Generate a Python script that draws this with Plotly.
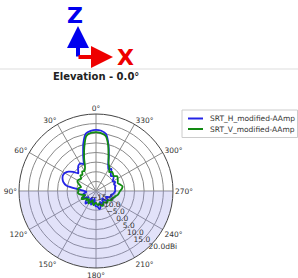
import plotly.graph_objects as go

W, H = 298, 278

theta_deg = list(range(0, 360, 5))

h_amp = [11.8, 11.4, 10.3, 5.5, -0.5, -4.5, -3.5, -4.0, -5.5, -7.0,
         -4.5, -2.5, -1.3, -1.0, -1.5, -2.5, -4.5, -11.0,
         -14.0, -15.0, -14.0, -13.0, -14.0, -13.0, -12.5, -14.0, -15.0,
         -12.5, -11.5, -13.0, -16.0, -14.0, -12.5, -14.0, -16.0, -13.0,
         -12.0, -12.0, -10.5, -11.0, -14.0, -13.0, -12.0, -14.0, -15.0,
         -13.0, -12.0, -13.0, -14.0, -12.5, -11.5, -12.0, -11.0, -10.5,
         -10.0, -10.0, -10.0, -9.5, -10.0, -9.0, -10.0, -9.0, -8.0,
         -9.0, -8.0, -6.0, -7.0, -5.0, -0.5, 5.0, 10.1, 11.4]

v_amp = [10.6, 10.3, 9.0, 3.5, -2.0, -6.5, -8.0, -7.5, -9.0, -8.5,
         -10.0, -9.5, -9.0, -9.5, -11.0, -12.0, -11.0, -10.5,
         -11.0, -10.5, -11.0, -12.5, -14.0, -12.0, -11.5, -13.0, -14.0,
         -13.0, -14.5, -13.0, -12.5, -14.0, -15.0, -13.5, -12.5, -13.5,
         -14.0, -13.0, -12.5, -13.5, -12.0, -11.5, -12.5, -13.0, -12.0,
         -11.5, -12.5, -11.5, -10.5, -11.0, -10.0, -9.5, -8.5, -8.0,
         -7.5, -6.5, -6.0, -7.0, -8.0, -7.5, -7.0, -6.5, -8.0,
         -7.5, -7.0, -8.0, -6.0, -4.5, -1.0, 4.5, 9.0, 10.2]

series_names = ["SRT_H_modified-AAmp", "SRT_V_modified-AAmp"]
series_colors = ["#2424e6", "#128a12"]

r_min, r_max = -20, 20
r_ticks = [-15, -10, -5, 0, 5, 10, 15, 20]
r_ticktext = ["\u221215.0", "\u221210.0", "\u22125.0", "0.0", "5.0", "10.0", "15.0", "20.0dBi"]
r_label_theta = 223
theta_ticks = list(range(0, 360, 30))
theta_ticktext = [f"{t}\u00b0" for t in theta_ticks]

fig = go.Figure()

# shaded lower half
fig.add_trace(go.Barpolar(
    r=[r_max - r_min], theta=[180], width=[180], base=[r_min],
    marker=dict(color="rgba(150,150,235,0.28)", line=dict(width=0)),
    showlegend=False, hoverinfo="skip"))

for vals, name, col in zip([h_amp, v_amp], series_names, series_colors):
    fig.add_trace(go.Scatterpolar(
        r=vals + [vals[0]], theta=theta_deg + [360], mode="lines",
        line=dict(color=col, width=1.8, shape="spline", smoothing=0.6),
        name=name, showlegend=False))

# radial tick labels centred on the rings
fig.add_trace(go.Scatterpolar(
    r=r_ticks, theta=[r_label_theta] * len(r_ticks), mode="text",
    text=r_ticktext,
    textposition=["middle center"] * (len(r_ticks) - 1) + ["middle right"],
    textfont=dict(size=7.5, color="#333333", family="DejaVu Sans"),
    showlegend=False, hoverinfo="skip"))

cx, cy, R = 96, 191, 77
fig.update_layout(
    width=W, height=H,
    margin=dict(l=0, r=0, t=0, b=0, autoexpand=False),
    paper_bgcolor="white",
    font=dict(family="DejaVu Sans", size=7.5, color="#333333"),
    polar=dict(
        domain=dict(x=[(cx - R) / W, (cx + R) / W],
                    y=[1 - (cy + R) / H, 1 - (cy - R) / H]),
        bgcolor="white",
        angularaxis=dict(
            rotation=90, direction="counterclockwise",
            tickvals=theta_ticks, ticktext=theta_ticktext,
            ticks="", showline=True, linecolor="#444444", linewidth=1,
            gridcolor="#8a8a8a", gridwidth=0.8,
            tickfont=dict(size=7.5, color="#333333")),
        radialaxis=dict(
            range=[r_min, r_max], tickvals=r_ticks,
            showticklabels=False, ticks="", showline=False,
            gridcolor="#8a8a8a", gridwidth=0.8),
    ),
    showlegend=False,
)

def px(x):
    return x / W

def py(y):
    return 1 - y / H

fig.add_shape(type="line", xref="paper", yref="paper",
              x0=0, x1=1, y0=py(69), y1=py(69),
              line=dict(color="#dddddd", width=1))

# legend (box, line keys, labels)
fig.add_shape(type="rect", xref="paper", yref="paper",
              x0=px(182), x1=px(297.5), y0=py(110), y1=py(137.5),
              line=dict(color="#cccccc", width=1), fillcolor="white")
for i, (name, col) in enumerate(zip(series_names, series_colors)):
    yy = 118.5 + i * 10.5
    fig.add_shape(type="line", xref="paper", yref="paper",
                  x0=px(188), x1=px(203), y0=py(yy), y1=py(yy),
                  line=dict(color=col, width=2))
    fig.add_annotation(xref="paper", yref="paper", x=px(207.5), y=py(yy),
                       xanchor="left", yanchor="middle", text=name,
                       showarrow=False,
                       font=dict(size=7.5, color="#333333", family="DejaVu Sans"))

# axis indicator
fig.add_annotation(xref="paper", yref="paper", x=px(78), y=py(26),
                   ax=0, ay=32, axref="pixel", ayref="pixel",
                   showarrow=True, arrowhead=2, arrowsize=1.1, arrowwidth=4,
                   arrowcolor="#0000ee", text="")
fig.add_annotation(xref="paper", yref="paper", x=px(113), y=py(57),
                   ax=-36, ay=0, axref="pixel", ayref="pixel",
                   showarrow=True, arrowhead=2, arrowsize=1.1, arrowwidth=4,
                   arrowcolor="#ee0000", text="")
fig.add_annotation(xref="paper", yref="paper", x=px(75), y=py(15),
                   xanchor="center", yanchor="middle",
                   text="<b>Z</b>", showarrow=False,
                   font=dict(size=22, color="#0000ee", family="DejaVu Sans"))
fig.add_annotation(xref="paper", yref="paper", x=px(125), y=py(57),
                   xanchor="center", yanchor="middle",
                   text="<b>X</b>", showarrow=False,
                   font=dict(size=22, color="#ee0000", family="DejaVu Sans"))
fig.add_annotation(xref="paper", yref="paper", x=px(96), y=py(76),
                   xanchor="center", yanchor="middle",
                   text="<b>Elevation - 0.0\u00b0</b>", showarrow=False,
                   font=dict(size=10, color="#222222", family="DejaVu Sans"))

fig.write_html("out.html",
               config={"displayModeBar": False},
               post_script="document.body.style.margin='0';"
                           "document.body.style.overflow='hidden';")
